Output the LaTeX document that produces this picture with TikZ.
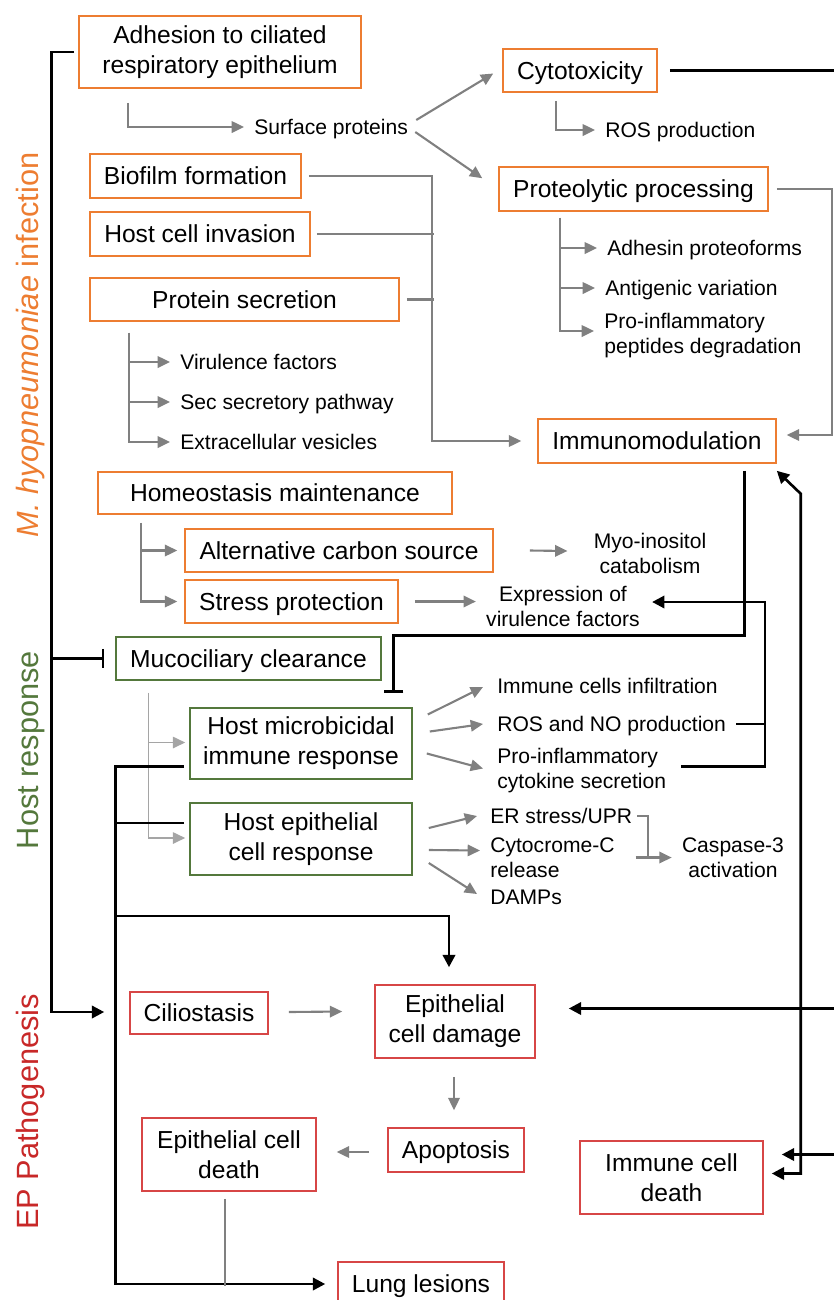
\documentclass[tikz,border=0pt]{standalone}
\usepackage{fontspec}
\setmainfont{Liberation Sans}
\usepackage{tikz}
\usetikzlibrary{arrows.meta, calc}
\definecolor{infor}{RGB}{237,125,49}
\definecolor{hostg}{RGB}{84,120,60}
\definecolor{patr}{RGB}{215,70,70}
\definecolor{patlab}{RGB}{200,40,40}
\definecolor{lnk}{RGB}{128,128,128}
\definecolor{lnkl}{RGB}{165,165,165}
\tikzset{
  sz/.style 2 args={minimum width=#1*0.2mm, minimum height=#2*0.2mm},
  bx/.style={line width=0.9pt, inner sep=0pt, align=center, font=\fontsize{14}{17}\selectfont},
  one/.style={text height=10pt, text depth=0pt},
  ibox/.style={bx, draw=infor},
  hbox/.style={bx, draw=hostg},
  pbox/.style={bx, draw=patr},
  txt/.style={inner xsep=2mm, inner ysep=0pt, align=left, font=\fontsize{12}{14.2}\selectfont},
  stxt/.style={txt, anchor=west, text height=8.6pt, text depth=0pt},
  side/.style={rotate=90, inner sep=0pt, font=\fontsize{17.5}{20}\selectfont},
  garr/.style={draw=lnk, line width=1.2pt, -{Triangle[length=7pt,width=6.5pt]}},
  garrl/.style={draw=lnkl, line width=0.8pt, -{Triangle[length=7pt,width=6.5pt]}},
  gline/.style={draw=lnk, line width=1.2pt},
  barr/.style={line width=1.5pt, -{Triangle[length=7pt,width=7pt]}},
  bdbl/.style={line width=1.5pt, {Triangle[length=7pt,width=7pt]}-{Triangle[length=7pt,width=7pt]}},
  bline/.style={line width=1.5pt},
  binh/.style={line width=1.5pt, -{Bar[width=11pt]}},
}

\begin{document}
\begin{tikzpicture}[x=0.2mm, y=-0.2mm]
\useasboundingbox (0,0) rectangle (834,1300);
\clip (0,0) rectangle (834,1300);

\node[side, text=infor] (lbinf) at (31,345) {\textit{M. hyopneumoniae} infection};
\node[side, text=hostg] (lbhost) at (31,750) {Host response};
\node[side, text=patlab] (lbpat) at (31,1112) {EP Pathogenesis};

\node[ibox, sz={282}{72}] (adh) at (220,52) {Adhesion to ciliated\\respiratory epithelium};
\node[ibox, one, sz={154}{43}] (cyto) at (580,70.5) {Cytotoxicity};
\node[ibox, one, sz={269}{44}] (prot) at (633.5,189) {Proteolytic processing};
\node[ibox, one, sz={211}{44}] (biof) at (195.5,176) {Biofilm formation};
\node[ibox, one, sz={220}{44}] (inv) at (200,234) {Host cell invasion};
\node[ibox, one, sz={309}{43}] (psec) at (244.5,299.5) {Protein secretion};
\node[ibox, one, sz={238}{44}] (immod) at (657,441) {Immunomodulation};
\node[ibox, one, sz={354}{42}] (homeo) at (275,493) {Homeostasis maintenance};
\node[ibox, one, sz={308}{43}] (carb) at (339,550.5) {Alternative carbon source};
\node[ibox, one, sz={213}{43}] (stress) at (291.5,601.5) {Stress protection};

\node[hbox, one, sz={265}{43}] (muco) at (248.5,658.5) {Mucociliary clearance};
\node[hbox, sz={222}{71}] (micro) at (301,743.5) {Host microbicidal\\immune response};
\node[hbox, sz={222}{72}] (epir) at (301,839) {Host epithelial\\cell response};

\node[pbox, one, sz={138}{42}] (cilio) at (199,1013) {Ciliostasis};
\node[pbox, sz={160}{73}] (edam) at (455,1021.5) {Epithelial\\cell damage};
\node[pbox, one, sz={136}{44}] (apop) at (456,1150) {Apoptosis};
\node[pbox, sz={174}{73}] (edeath) at (229,1154.5) {Epithelial cell\\death};
\node[pbox, one, sz={166}{44}] (lung) at (421,1284) {Lung lesions};
\node[pbox, sz={183}{73}] (imdeath) at (671.5,1177.5) {Immune cell\\death};

\node[stxt] (surf) at (244,127) {Surface proteins};
\node[stxt] (ros) at (595,130) {ROS production};
\node[stxt] (adhp) at (597,248) {Adhesin proteoforms};
\node[stxt] (antig) at (595,288) {Antigenic variation};
\node[txt, anchor=west] (proinf) at (594,336) {Pro-inflammatory\\peptides degradation};
\node[stxt] (vir) at (170,362) {Virulence factors};
\node[stxt] (sec) at (170,402) {Sec secretory pathway};
\node[stxt] (ev) at (170,442) {Extracellular vesicles};
\node[txt, align=center] (myo) at (650,553) {Myo-inositol\\catabolism};
\node[txt, align=center] (expr) at (563,606) {Expression of\\virulence factors};
\node[stxt] (icinf) at (487,686) {Immune cells infiltration};
\node[stxt] (rosno) at (487,724) {ROS and NO production};
\node[txt, anchor=west] (cyt) at (487,770.5) {Pro-inflammatory\\cytokine secretion};
\node[stxt] (er) at (480,816) {ER stress/UPR};
\node[txt, anchor=west] (cytc) at (480,857.5) {Cytocrome-C\\release};
\node[stxt] (damps) at (480,897) {DAMPs};
\node[txt, align=center] (casp) at (733,857.5) {Caspase-3\\activation};

\draw[garr] ($(adh.south west)+(50,14)$) |- (surf.west);
\draw[garr] ($(surf.east)+(-2,-7)$) -- ($(cyto.west)+(-9,3)$);
\draw[garr] ($(surf.east)+(-3,5)$) -- ($(prot.north west)+(-16,12)$);
\draw[garr] ($(cyto.south west)+(54,8)$) |- (ros.west);
\foreach \n/\dy in {adhp/0, antig/0, proinf/-5}
  \draw[garr] ($(prot.south west)+(62,6)$) |- ($(\n.west)+(0,\dy)$);
\draw[garr] ($(prot.east)+(8,0)$) -- ++(55,0) |- ($(immod.east)+(10,-6)$);
\draw[garr] ($(biof.east)+(7,0)$) -| ($(immod.west)+(-105,0)$) -- ($(immod.west)+(-16,0)$);
\draw[gline] ($(inv.east)+(6,0)$) -- ++(117,0);
\draw[gline] ($(psec.east)+(7,0)$) -- ++(27,0);
\foreach \n in {vir, sec, ev}
  \draw[garr] ($(psec.south west)+(40,11)$) |- (\n.west);
\foreach \n in {carb, stress}
  \draw[garr] ($(homeo.south west)+(44,8)$) |- ($(\n.west)+(-7,0)$);
\draw[garr] ($(carb.east)+(36,0)$) -- ($(myo.west)+(-16,-2)$);
\draw[garr] ($(stress.east)+(16,0)$) -- (stress.east -| expr.west);

\draw[barr] ($(cyt.east)+(5,-4)$) -| ($(expr.east)+(115,-4)$) -- ($(expr.east)+(2,-4)$);
\draw[bline] (rosno.east) -- ++(30,0);
\draw[binh] ($(immod.south east)+(-32,7)$) |- ($(muco.north east)+(12,-1)$) -- ($(muco.south east)+(12,12)$);

\draw[barr] ($(adh.west)+(-4,0)$) -- ++(-23,0) |- ($(cilio.west)+(-25,-1)$);
\draw[binh] ($(adh.west)+(-27,0)$) |- ($(muco.west)+(-11,0)$);
\foreach \n in {micro, epir}
  \draw[garrl] ($(muco.south west)+(33,12)$) |- ($(\n.west)+(-4,-1)$);

\draw[garr] ($(micro.east)+(15,-29)$) -- ($(icinf.west)+(-4,1)$);
\draw[garr] ($(micro.east)+(17,-12)$) -- ($(rosno.west)+(-4,0)$);
\draw[garr] ($(micro.east)+(14,10)$) -- ($(cyt.west)+(-4,-2)$);
\draw[garr] ($(epir.east)+(16,-11)$) -- ($(er.west)+(-3,0)$);
\draw[garr] ($(epir.east)+(16,11)$) -- ($(cytc.west)+(0,-7)$);
\draw[garr] ($(epir.east)+(16,24)$) -- ($(damps.west)+(-3,-3)$);
\draw[gline] ($(er.east)+(-5,0)$) -| ($(casp.west)+(-24,0)$);
\draw[garr] ($(casp.west)+(-36,0)$) -- (casp.west);

\draw[barr] ($(micro.west)+(-5,23)$) -| ($(lung.west)+(-222,0)$) -- ($(lung.west)+(-12,0)$);
\draw[bline] ($(epir.west)+(-5,-16)$) -- ++(-69,0);
\draw[barr] ($(epir.west)+(-74,77)$) -| ($(edam.north)+(-6,-17)$);

\draw[garr] ($(cilio.east)+(20,-1)$) -- ($(edam.west)+(-32,-10)$);
\draw[garr] ($(edam.south)+(-1,18)$) -- ($(apop.north)+(-2,-17)$);
\draw[garr] ($(apop.west)+(-18,2)$) -- ($(edeath.east)+(20,-2.5)$);
\draw[gline] ($(edeath.south)+(-4,7)$) -- ++(0,87);

\draw[bline] ($(cyto.east)+(12,0)$) -- ++(180,0);
\draw[barr] ($(edam.east)+(320,-13)$) -- ($(edam.east)+(33,-13)$);
\draw[barr] ($(imdeath.east)+(90,-23)$) -- ($(imdeath.east)+(18,-23)$);
\draw[bdbl] ($(imdeath.east)+(8,-4)$) -| ($(immod.south east)+(24,30)$) -- ($(immod.south east)+(0,7)$);
\end{tikzpicture}
\end{document}
